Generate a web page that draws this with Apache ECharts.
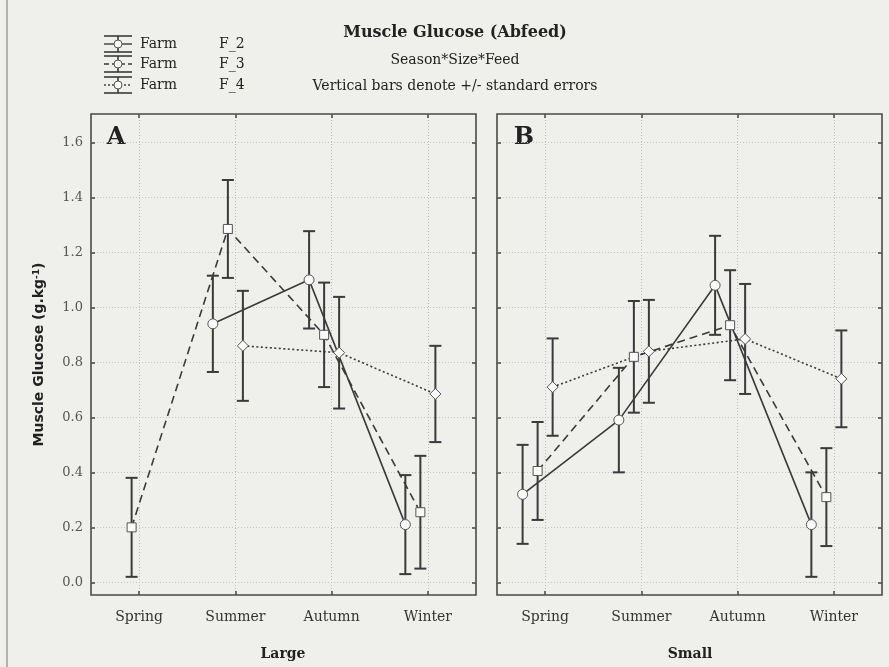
<!DOCTYPE html>
<html><head><meta charset="utf-8">
<script src="https://cdn.jsdelivr.net/npm/echarts@6/dist/echarts.min.js"></script>
<style>html,body{margin:0;padding:0;background:#efefec}#c{width:889px;height:667px}</style>
</head><body><div id="c"></div>
<script>
const seasons = ['Spring', 'Summer', 'Autumn', 'Winter'];
const farmLabels = ['F_2', 'F_3', 'F_4'];
const yTicks = [0, 0.2, 0.4, 0.6, 0.8, 1.0, 1.2, 1.4, 1.6];
const panelSizes = ['Large', 'Small'];
const panelLetters = ['A', 'B'];

// Large fish (panel A): means and standard errors
const largeF2 = [null, 0.94, 1.10, 0.21];
const largeF2se = [null, 0.175, 0.177, 0.18];
const largeF3 = [0.20, 1.285, 0.90, 0.255];
const largeF3se = [0.18, 0.178, 0.19, 0.205];
const largeF4 = [null, 0.86, 0.835, 0.685];
const largeF4se = [null, 0.20, 0.203, 0.175];

// Small fish (panel B)
const smallF2 = [0.32, 0.59, 1.08, 0.21];
const smallF2se = [0.18, 0.19, 0.18, 0.19];
const smallF3 = [0.405, 0.82, 0.935, 0.31];
const smallF3se = [0.178, 0.203, 0.20, 0.178];
const smallF4 = [0.71, 0.84, 0.885, 0.74];
const smallF4se = [0.177, 0.187, 0.20, 0.176];

const panels = [
  { means: [largeF2, largeF3, largeF4], ses: [largeF2se, largeF3se, largeF4se] },
  { means: [smallF2, smallF3, smallF4], ses: [smallF2se, smallF3se, smallF4se] }
];

const INK = '#3a3a3a';
const SERIF = '"DejaVu Serif", "Liberation Serif", serif';
const SANS = '"DejaVu Sans", "Liberation Sans", sans-serif';
const offsets = [-0.234, -0.078, 0.078];
const symbols = ['circle', 'rect', 'diamond'];
const symSizes = [10, 9, 11];
const dashes = ['solid', [8, 5], [2, 2.5]];

const grids = [
  { left: 91, top: 114, width: 385, height: 481 },
  { left: 497, top: 114, width: 385, height: 481 }
].map(g => Object.assign(g, { show: true, borderColor: '#4a4a4a', borderWidth: 1.6, backgroundColor: 'transparent', containLabel: false }));

const xAxes = [], yAxes = [], series = [];
const catVals = [0, 1, 2, 3];
const tickStyle = { color: '#444', width: 1.5 };

grids.forEach((g, gi) => {
  xAxes.push({
    type: 'value', gridIndex: gi, min: -0.5, max: 3.5, position: 'bottom',
    axisLine: { show: false, onZero: false },
    axisTick: { show: true, inside: true, length: 4, customValues: catVals, lineStyle: tickStyle },
    axisLabel: { show: true, customValues: catVals, formatter: v => seasons[Math.round(v)], margin: 15,
      fontFamily: SERIF, fontSize: 14, color: '#333' },
    splitLine: { show: true, lineStyle: { color: '#bdbdbd', type: [1, 2], width: 1 } }
  });
  xAxes.push({
    type: 'value', gridIndex: gi, min: -0.5, max: 3.5, position: 'top',
    axisLine: { show: false, onZero: false },
    axisTick: { show: true, inside: true, length: 4, customValues: catVals, lineStyle: tickStyle },
    axisLabel: { show: false }, splitLine: { show: false }
  });
  yAxes.push({
    type: 'value', gridIndex: gi, min: -0.046, max: 1.703, position: 'left',
    axisLine: { show: false, onZero: false },
    axisTick: { show: true, inside: true, length: 4, customValues: yTicks, lineStyle: tickStyle },
    axisLabel: { show: gi === 0, customValues: yTicks, formatter: v => v.toFixed(1), margin: 8,
      fontFamily: SERIF, fontSize: 13, color: '#555' },
    splitLine: { show: true, lineStyle: { color: '#c4c4c4', type: [1, 2], width: 1 } },
    name: gi === 0 ? 'Muscle Glucose (g.kg{sup|-1})' : '',
    nameLocation: 'middle', nameRotate: 90, nameGap: 44,
    nameTextStyle: { fontFamily: SANS, fontWeight: 'bold', fontSize: 14, color: '#222',
      rich: { sup: { fontSize: 9, verticalAlign: 'top', fontWeight: 'bold', fontFamily: SANS, color: '#222', padding: [0, 0, 6, 0] } } }
  });
  yAxes.push({
    type: 'value', gridIndex: gi, min: -0.046, max: 1.703, position: 'right',
    axisLine: { show: false, onZero: false },
    axisTick: { show: true, inside: true, length: 4, customValues: yTicks, lineStyle: tickStyle },
    axisLabel: { show: false }, splitLine: { show: false }
  });

  const p = panels[gi];
  for (let f = 0; f < 3; f++) {
    const errData = [];
    const lineData = [];
    for (let i = 0; i < 4; i++) {
      const m = p.means[f][i];
      const x = i + offsets[f];
      if (m === null) { lineData.push([x, null]); continue; }
      lineData.push([x, m]);
      errData.push([x, m - p.ses[f][i], m + p.ses[f][i]]);
    }
    series.push({
      type: 'custom', xAxisIndex: gi * 2, yAxisIndex: gi * 2, z: 2,
      data: errData, encode: { x: 0, y: [1, 2] }, silent: true,
      renderItem: (params, api) => {
        const x = api.value(0);
        const a = api.coord([x, api.value(2)]);
        const b = api.coord([x, api.value(1)]);
        const w = 6;
        const st = { stroke: INK, lineWidth: 2 };
        return { type: 'group', children: [
          { type: 'line', shape: { x1: a[0], y1: a[1], x2: b[0], y2: b[1] }, style: st },
          { type: 'line', shape: { x1: a[0] - w, y1: a[1], x2: a[0] + w, y2: a[1] }, style: st },
          { type: 'line', shape: { x1: b[0] - w, y1: b[1], x2: b[0] + w, y2: b[1] }, style: st }
        ] };
      }
    });
    series.push({
      type: 'line', name: farmLabels[f], xAxisIndex: gi * 2, yAxisIndex: gi * 2, z: 3,
      data: lineData, connectNulls: false, symbol: symbols[f], symbolSize: symSizes[f], showAllSymbol: true,
      lineStyle: { color: INK, width: 1.6, type: dashes[f] },
      itemStyle: { color: '#fafafa', borderColor: '#555', borderWidth: 1 },
      emphasis: { disabled: true }, animation: false
    });
  }
});

const graphic = [];
// scan edge line
graphic.push({ type: 'line', shape: { x1: 7, y1: 0, x2: 7, y2: 667 }, style: { stroke: '#888', lineWidth: 1.2 } });
const txt = (x, y, text, font, align) => ({ type: 'text', x, y, style: { text, font, fill: '#222', textAlign: align || 'center', textVerticalAlign: 'middle' } });
graphic.push(txt(455, 33, 'Muscle Glucose (Abfeed)', 'bold 16px ' + SERIF));
graphic.push(txt(455, 60, 'Season*Size*Feed', '14px ' + SERIF));
graphic.push(txt(455, 86, 'Vertical bars denote +/- standard errors', '14px ' + SERIF));
// legend
const rowsY = [44, 64, 85];
rowsY.forEach((cy, f) => {
  const x0 = 104, x1 = 132, xc = 118, h = 8;
  graphic.push({ type: 'line', shape: { x1: x0, y1: cy - h, x2: x1, y2: cy - h }, style: { stroke: INK, lineWidth: 1.6 } });
  graphic.push({ type: 'line', shape: { x1: x0, y1: cy + h, x2: x1, y2: cy + h }, style: { stroke: INK, lineWidth: 1.6 } });
  graphic.push({ type: 'line', shape: { x1: xc, y1: cy - h, x2: xc, y2: cy + h }, style: { stroke: INK, lineWidth: 1.6 } });
  graphic.push({ type: 'line', shape: { x1: x0, y1: cy, x2: x1, y2: cy }, style: { stroke: INK, lineWidth: 1.4, lineDash: f === 0 ? null : (f === 1 ? [5, 3] : [2, 2]) } });
  graphic.push({ type: 'circle', shape: { cx: xc, cy, r: 4 }, style: { fill: '#fafafa', stroke: '#555', lineWidth: 1 }, z: 10 });
  graphic.push(txt(140, cy, 'Farm', '14px ' + SERIF, 'left'));
  graphic.push(txt(219, cy, farmLabels[f], '14px ' + SERIF, 'left'));
});
graphic.push(txt(116, 138, panelLetters[0], 'bold 24px ' + SERIF));
graphic.push(txt(524, 138, panelLetters[1], 'bold 24px ' + SERIF));
graphic.push(txt(283, 654, panelSizes[0], 'bold 14px ' + SERIF));
graphic.push(txt(690, 654, panelSizes[1], 'bold 14px ' + SERIF));

const chart = echarts.init(document.getElementById('c'), null, { renderer: 'canvas' });
chart.setOption({
  backgroundColor: '#efefec',
  animation: false,
  grid: grids, xAxis: xAxes, yAxis: yAxes, series, graphic
});
</script></body></html>
